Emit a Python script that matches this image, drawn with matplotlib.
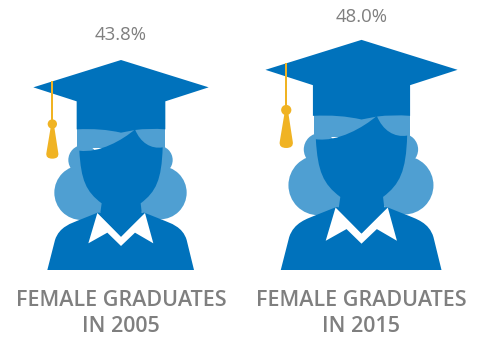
import matplotlib
matplotlib.use("Agg")
import matplotlib.pyplot as plt
from matplotlib.path import Path
from matplotlib.patches import PathPatch, Circle, Rectangle
from matplotlib.transforms import Affine2D

years = ["2005", "2015"]
shares = [43.8, 48.0]
share_labels = ["43.8%", "48.0%"]
centres = [121, 361.5]
label_y = [34.5, 17]
caption_lines = ["FEMALE GRADUATES", "IN 2005", "IN 2015"]
caption_centres = [121, 361.5]

DARK = "#0072BC"
LIGHT = "#4F9FD2"
GOLD = "#F0B323"
GREY = "#7F7F7F"
BASELINE = 270
ICON_UNITS = 630          # icon height in outline units
PX_PER_POINT = 210 / 43.8  # icon height in pixels per percentage point

M, L, C3, C4, Z = Path.MOVETO, Path.LINETO, Path.CURVE3, Path.CURVE4, Path.CLOSEPOLY


def shape(steps):
    verts = [p for _, p in steps]
    codes = [c for c, _ in steps]
    return Path(verts, codes)


# Outlines use x from the icon centre and y up from the base
CAP = shape([(M, (0, 630)), (L, (263, 548)), (L, (133, 506)), (L, (133, 422)),
             (C3, (85, 426)), (C3, (42, 420)), (L, (0, 412)),
             (C3, (-60, 426)), (C3, (-133, 422)), (L, (-133, 506)),
             (L, (-263, 548)), (Z, (0, 630))])
FACE = shape([(M, (-125, 358)),
              (C4, (-120, 270)), (C4, (-105, 235)), (C4, (-58, 200)),
              (L, (-63, 165)), (L, (0, 100)), (L, (63, 165)), (L, (59, 200)),
              (C4, (105, 235)), (C4, (122, 270)), (C4, (125, 368)),
              (C4, (90, 362)), (C4, (58, 382)), (C4, (42, 422)),
              (C4, (5, 390)), (C4, (-65, 350)), (C4, (-125, 358)),
              (Z, (-125, 358))])
BODY = shape([(M, (-221, 0)), (L, (-198, 90)),
              (C4, (-185, 130)), (C4, (-150, 140)), (C4, (-120, 152)),
              (L, (-70, 172)), (L, (70, 172)), (L, (120, 152)),
              (C4, (150, 140)), (C4, (185, 130)), (C4, (197, 90)),
              (L, (219, 0)), (Z, (-221, 0))])
COLLAR = shape([(M, (-71, 171)), (L, (-98, 80)), (L, (-41, 112)), (L, (0, 72)),
                (L, (42, 112)), (L, (97, 80)), (L, (72, 171)), (L, (0, 100)),
                (Z, (-71, 171))])
TASSEL = shape([(M, (-211, 428)), (L, (-200, 428)), (L, (-188, 350)),
                (C3, (-186, 334)), (C3, (-206, 334)),
                (C3, (-226, 334)), (C3, (-224, 350)), (Z, (-211, 428))])

fig = plt.figure(figsize=(4.84, 3.37), dpi=100, facecolor="white")
ax = fig.add_axes([0, 0, 1, 1])
ax.set_xlim(0, 484)
ax.set_ylim(337, 0)
ax.axis("off")

for share, cx, text, ty, cap_x, year_line in zip(shares, centres, share_labels, label_y,
                                                 caption_centres, caption_lines[1:]):
    s = share * PX_PER_POINT / ICON_UNITS
    place = Affine2D().scale(s, -s).translate(cx, BASELINE) + ax.transData

    def add(artist, z):
        artist.set_transform(place)
        artist.set_zorder(z)
        artist.set_linewidth(0)
        ax.add_patch(artist)

    # Hair behind the face
    for xy, r in [((-118, 232), 82), ((117, 232), 80), ((-113, 330), 45), ((112, 330), 43)]:
        add(Circle(xy, r, facecolor=LIGHT), 1)
    add(Rectangle((-131, 365), 264, 65, facecolor=LIGHT), 1)
    add(PathPatch(BODY, facecolor=DARK), 2)
    add(PathPatch(COLLAR, facecolor="white"), 3)
    add(PathPatch(FACE, facecolor=DARK), 4)
    add(PathPatch(CAP, facecolor=DARK), 5)
    # Tassel hanging from the board
    add(Rectangle((-209, 440), 6, 126, facecolor=GOLD), 6)
    add(Circle((-206, 438), 14, facecolor=GOLD), 6)
    add(PathPatch(TASSEL, facecolor=GOLD), 6)

    ax.text(cx, ty, text, ha="center", va="center", color=GREY, fontsize=13.4,
            family="Open Sans")
    ax.text(cap_x, 300, caption_lines[0], ha="center", va="center", color=GREY, fontsize=15.5,
            family="Open Sans", fontweight="semibold")
    ax.text(cap_x, 327, year_line, ha="center", va="center", color=GREY, fontsize=15.5,
            family="Open Sans", fontweight="semibold")

fig.savefig("out.png", dpi=100, facecolor="white")
